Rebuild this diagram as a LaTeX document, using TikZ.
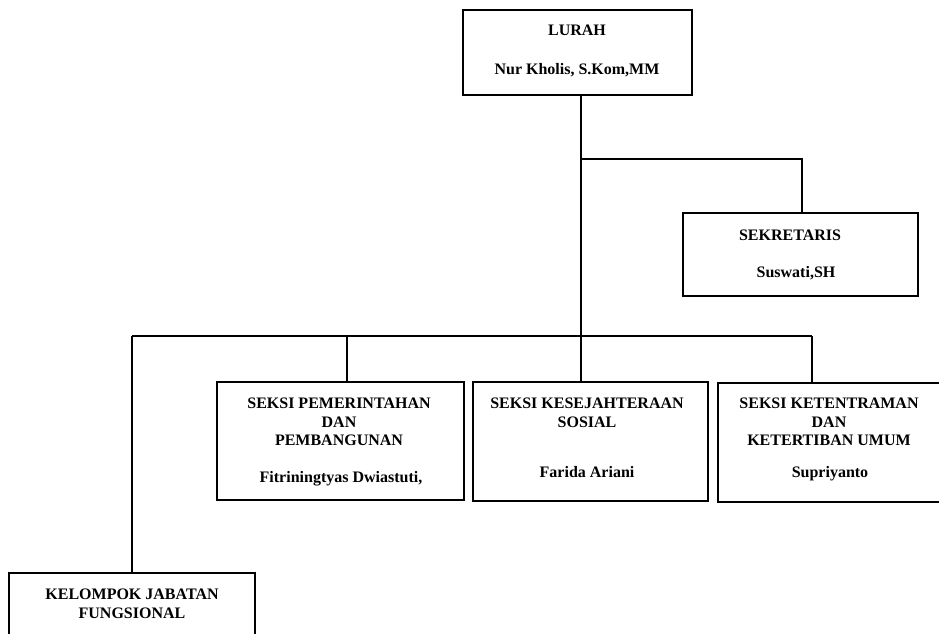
\documentclass[tikz,border=0pt]{standalone}
\usepackage{fontspec}
\setmainfont{Liberation Serif}
\usetikzlibrary{positioning}

\begin{document}
\begin{tikzpicture}[x=0.75pt,y=-0.75pt,
    box/.style={draw, line width=2pt, inner sep=0pt},
    headtext/.style={font=\bfseries\fontsize{12}{13.9}\selectfont, align=center, anchor=north, inner sep=0pt},
    nametext/.style={font=\bfseries\fontsize{12}{13.9}\selectfont, anchor=base, inner sep=0pt},
    link/.style={line width=1.5pt}]
    \clip (0,0) rectangle (939,634);

    % Lurah
    \node[box, minimum width=171.75pt, minimum height=63.75pt] (lurah) at (577.5,52.5) {};
    \node[headtext] (lurahT) at (577,25) {LURAH};
    \node[nametext] (lurahN) at (577,75) {Nur Kholis, S.Kom,MM};

    % Sekretaris
    \node[box, minimum width=176.25pt, minimum height=62.25pt] (sek) at (800.5,254.5) {};
    \node[headtext] (sekT) at (790,230) {SEKRETARIS};
    \node[nametext] (sekN) at (796,278) {Suswati,SH};

    % Seksi
    \node[box, minimum width=185.25pt, minimum height=88.5pt] (pem) at (340.5,441) {};
    \node[headtext] (pemT) at (339,398) {SEKSI PEMERINTAHAN\\DAN\\PEMBANGUNAN};
    \node[nametext] (pemN) at (341,482) {Fitriningtyas Dwiastuti,};

    \node[box, minimum width=176.25pt, minimum height=89.25pt] (kes) at (590.5,441.5) {};
    \node[headtext] (kesT) at (587,398) {SEKSI KESEJAHTERAAN\\SOSIAL};
    \node[nametext] (kesN) at (587,477) {Farida Ariani};

    \node[box, minimum width=168pt, minimum height=89.25pt] (ket) at (830,442.5) {};
    \node[headtext] (ketT) at (829,398) {SEKSI KETENTRAMAN\\DAN\\KETERTIBAN UMUM};
    \node[nametext] (ketN) at (830,478) {Supriyanto};

    % Kelompok jabatan fungsional
    \node[box, minimum width=184.5pt, minimum height=65.25pt] (kel) at (132,616.5) {};
    \node[headtext] (kelT) at (132,589) {KELOMPOK JABATAN\\FUNGSIONAL};

    % Lines
    \coordinate (jsek) at (581,159);
    \coordinate (dsek) at (802,159);
    \coordinate (jbus) at (581,336);
    \draw[link] (lurah.south -| jbus) -- (kes.north -| jbus);
    \draw[link] (jsek) -- (dsek) -- (dsek |- sek.north);
    \draw[link] (132,336) -- (812,336);
    \foreach \x/\n in {132/kel,347/pem,812/ket}
        \draw[link] (\x,336) -- ({\x,336} |- \n.north);
\end{tikzpicture}
\end{document}
